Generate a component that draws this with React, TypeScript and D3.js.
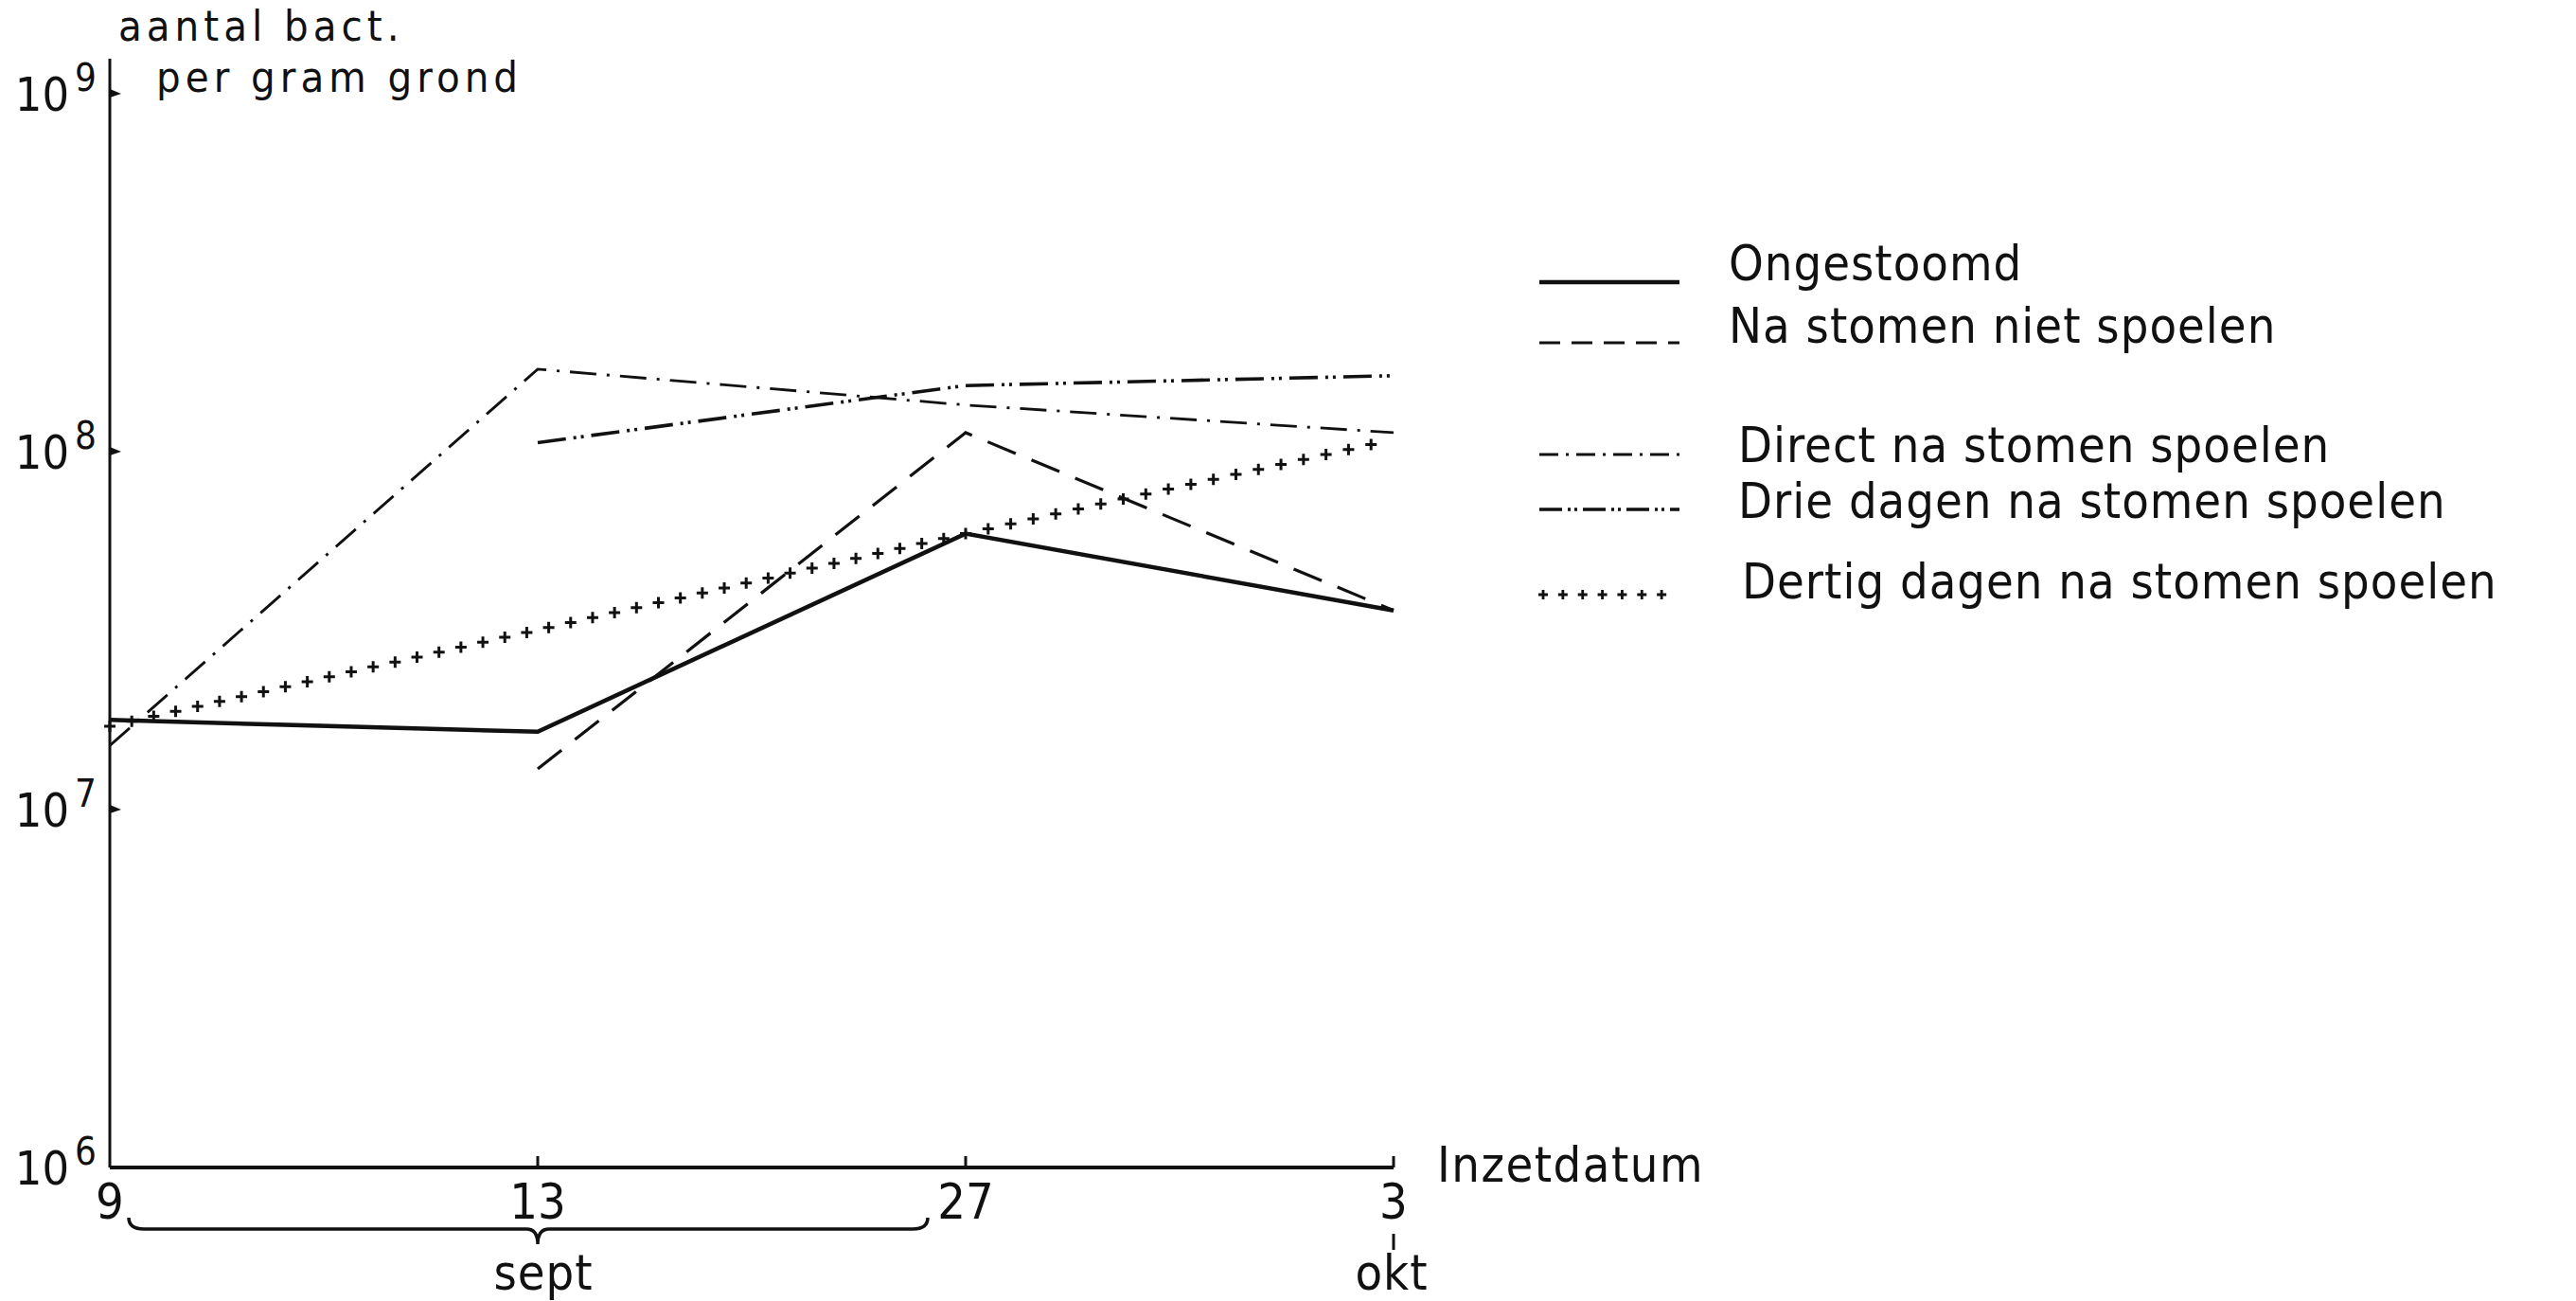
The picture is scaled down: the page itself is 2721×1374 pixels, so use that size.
import React, { useEffect } from "react";
import { scaleLog, scalePoint, line } from "d3";

const dates = ["9", "13", "27", "3"];
const ongestoomd = [1.78e7, 1.65e7, 5.9e7, 3.6e7];
const nietSpoelen = [null, 1.3e7, 1.13e8, 3.6e7];
const directSpoelen = [1.51e7, 1.7e8, 1.35e8, 1.13e8];
const drieDagen = [null, 1.06e8, 1.53e8, 1.63e8];
const dertigDagen = [1.71e7, null, 5.9e7, 1.08e8];
const yTicks = [1e6, 1e7, 1e8, 1e9];
const yTickExp = ["6", "7", "8", "9"];

const legendLabels = [
  "Ongestoomd",
  "Na stomen niet spoelen",
  "Direct na stomen spoelen",
  "Drie dagen na stomen spoelen",
  "Dertig dagen na stomen spoelen",
];

const FONT = "'DejaVu Sans Condensed', 'Liberation Sans Narrow', 'DejaVu Sans', sans-serif";

type Pt = [number, number];

function crossesAlong(pts: Pt[], step: number, size: number) {
  // little "+" marks spaced along the polyline
  let d = "";
  for (let i = 0; i < pts.length - 1; i++) {
    const [x0, y0] = pts[i];
    const [x1, y1] = pts[i + 1];
    const len = Math.hypot(x1 - x0, y1 - y0);
    const n = Math.max(1, Math.round(len / step));
    for (let k = 0; k < n; k++) {
      const t = k / n;
      const x = x0 + (x1 - x0) * t;
      const y = y0 + (y1 - y0) * t;
      d += `M${x - size},${y}L${x + size},${y}M${x},${y - size}L${x},${y + size}`;
    }
  }
  return d;
}

export default function App() {
  useEffect(() => {
    document.body.style.margin = "0";
  }, []);

  const width = 2721;
  const height = 1374;

  const x = scalePoint<string>().domain(dates).range([116, 1472]);
  const y = scaleLog().domain([1e6, 1e9]).range([1233, 99]);

  const toPts = (vals: (number | null)[]): Pt[] =>
    vals
      .map((v, i) => (v == null ? null : ([x(dates[i]) as number, y(v)] as Pt)))
      .filter((p): p is Pt => p !== null);

  const lineGen = line<Pt>()
    .x((d) => d[0])
    .y((d) => d[1]);

  const series = [
    { vals: ongestoomd, dash: "none", legDash: "none", w: 4.5 },
    { vals: nietSpoelen, dash: "32,18", legDash: "22,12", w: 3.2 },
    { vals: directSpoelen, dash: "28,11,3,11", legDash: "20,8,3,8", w: 2.8 },
    { vals: drieDagen, dash: "30,8,3,5,3,8", legDash: "24,6,3,4,3,6", w: 3.6 },
  ];

  const dertigPts = toPts(dertigDagen);

  const legendY = [298, 362, 480, 538, 628];
  const legendTextY = [296, 362, 488, 547, 632];
  const legendTextX = [1826, 1826, 1836, 1836, 1840];

  const bx0 = (x("9") as number) + 20;
  const bxm = x("13") as number;
  const bx1 = (x("27") as number) - 40;
  const braceTop = 1286;
  const braceMid = 1298;
  const braceTip = 1314;
  const bracePath =
    `M${bx0},${braceTop} Q${bx0},${braceMid} ${bx0 + 16},${braceMid} ` +
    `L${bxm - 12},${braceMid} Q${bxm},${braceMid} ${bxm},${braceTip} ` +
    `Q${bxm},${braceMid} ${bxm + 12},${braceMid} ` +
    `L${bx1 - 16},${braceMid} Q${bx1},${braceMid} ${bx1},${braceTop}`;

  return (
    <svg width={width} height={height} style={{ display: "block", background: "#fff" }}>
      <g fontFamily={FONT} fontStretch="condensed" fill="#111">
        {/* axes */}
        <line x1={116} x2={116} y1={62} y2={1233} stroke="#111" strokeWidth={3} />
        <line x1={116} x2={1472} y1={1233} y2={1233} stroke="#111" strokeWidth={4} />
        {yTicks.slice(1).map((t) => (
          <path
            key={t}
            d={`M116,${y(t) - 5}L128,${y(t)}L116,${y(t) + 4}Z`}
            fill="#111"
          />
        ))}
        {dates.slice(1).map((dd) => (
          <line
            key={dd}
            x1={x(dd)}
            x2={x(dd)}
            y1={1233}
            y2={1221}
            stroke="#111"
            strokeWidth={3}
          />
        ))}

        {/* y tick labels */}
        {yTicks.map((t, i) => (
          <g key={t}>
            <text x={73} y={y(t) + 18} fontSize={50} textAnchor="end">
              10
            </text>
            <text x={79} y={y(t) - 3} fontSize={40}>
              {yTickExp[i]}
            </text>
          </g>
        ))}
        <text x={125} y={43} fontSize={45} letterSpacing={5}>
          aantal bact.
        </text>
        <text x={165} y={97} fontSize={45} letterSpacing={5}>
          per gram grond
        </text>

        {/* x tick labels */}
        {dates.map((dd) => (
          <text key={dd} x={x(dd)} y={1287} fontSize={52} textAnchor="middle">
            {dd}
          </text>
        ))}
        <text x={1518} y={1248} fontSize={52} letterSpacing={1.5}>
          Inzetdatum
        </text>
        <path d={bracePath} fill="none" stroke="#111" strokeWidth={3.5} />
        <text x={bxm + 6} y={1362} fontSize={52} textAnchor="middle" letterSpacing={1}>
          sept
        </text>
        <line
          x1={x("3")}
          x2={x("3")}
          y1={1303}
          y2={1320}
          stroke="#111"
          strokeWidth={3}
        />
        <text x={(x("3") as number) - 2} y={1362} fontSize={52} textAnchor="middle" letterSpacing={1}>
          okt
        </text>

        {/* series */}
        {series.map((s, i) => (
          <path
            key={i}
            d={lineGen(toPts(s.vals)) || ""}
            fill="none"
            stroke="#111"
            strokeWidth={s.w}
            strokeDasharray={s.dash}
            strokeLinejoin="miter"
          />
        ))}
        <path
          d={crossesAlong(dertigPts, 24, 6)}
          fill="none"
          stroke="#111"
          strokeWidth={3}
        />

        {/* legend */}
        {series.map((s, i) => (
          <line
            key={i}
            x1={1626}
            x2={1774}
            y1={legendY[i]}
            y2={legendY[i]}
            stroke="#111"
            strokeWidth={s.w}
            strokeDasharray={s.legDash}
          />
        ))}
        <path
          d={crossesAlong(
            [
              [1630, legendY[4]],
              [1776, legendY[4]],
            ],
            22,
            5
          )}
          fill="none"
          stroke="#111"
          strokeWidth={2.8}
        />
        {legendLabels.map((l, i) => (
          <text key={l} x={legendTextX[i]} y={legendTextY[i]} fontSize={52} letterSpacing={1}>
            {l}
          </text>
        ))}
      </g>
    </svg>
  );
}
